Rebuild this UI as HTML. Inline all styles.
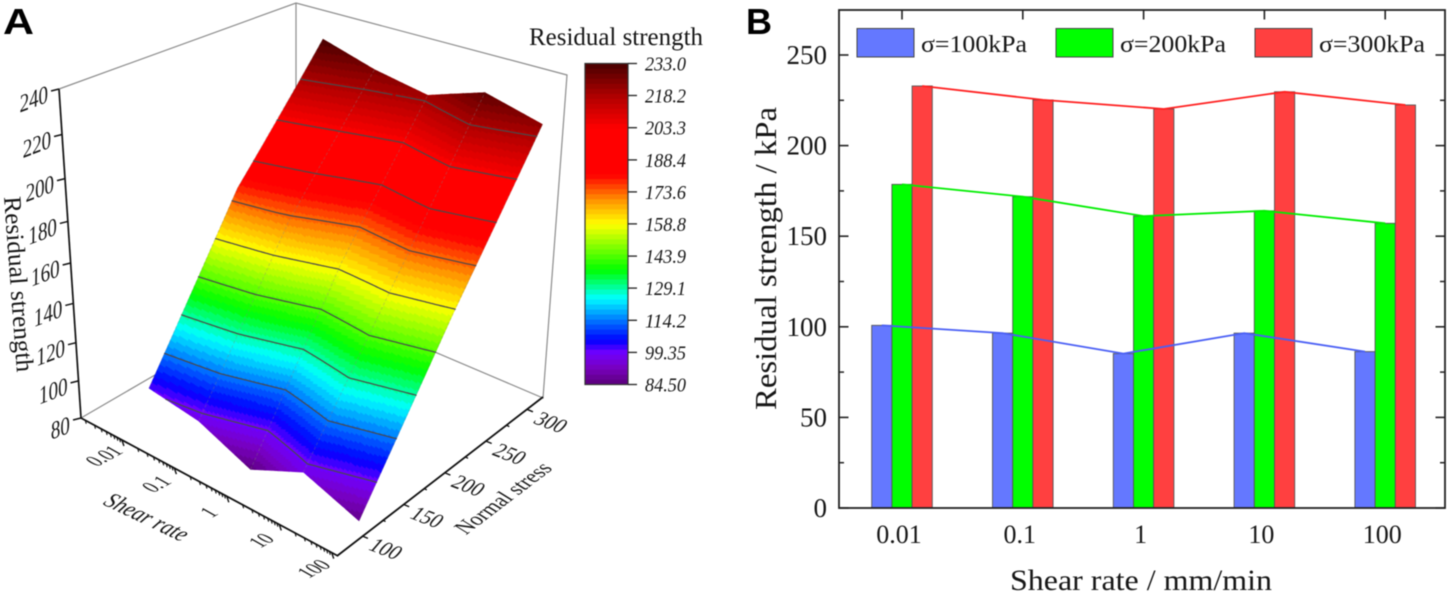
<!DOCTYPE html>
<html>
<head>
<meta charset="utf-8">
<title>Residual strength charts</title>
<style>
html,body{margin:0;padding:0;background:#fff;width:1450px;height:594px;overflow:hidden}
svg{display:block;filter:blur(.4px)}
text{font-family:"Liberation Serif",serif;fill:#161616}
.sans{font-family:"Liberation Sans",sans-serif;font-weight:bold;fill:#000}
</style>
</head>
<body>
<svg id="fig" xmlns="http://www.w3.org/2000/svg" width="1450" height="594" viewBox="0 0 1450 594">
<rect width="1450" height="594" fill="#fff"/>
<text class="sans" x="3" y="34" font-size="36" textLength="31" lengthAdjust="spacingAndGlyphs">A</text>
<text class="sans" x="746" y="34" font-size="36">B</text>
<g id="a"></g>
<g id="b"></g>
</svg>
<script>
// ---- data ----
const shearLabels = ['0.01', '0.1', '1', '10', '100'];
const stress100 = [100.8, 96.5, 85.2, 96.5, 86.3];
const stress200 = [178.6, 171.8, 161.1, 164.0, 157.1];
const stress300 = [232.9, 225.2, 220.2, 229.7, 222.4];
const seriesNames = ['σ=100kPa', 'σ=200kPa', 'σ=300kPa'];
const barTicks = [0, 50, 100, 150, 200, 250];
const barMinorTicks = [25, 75, 125, 175, 225];
const zTicks = [80, 100, 120, 140, 160, 180, 200, 220, 240];
const stressTicks = [100, 150, 200, 250, 300];
const stressMinorTicks = [125, 175, 225, 275];
const colorbarLabels = ['233.0', '218.2', '203.3', '188.4', '173.6', '158.8', '143.9', '129.1', '114.2', '99.35', '84.50'];
const colorbarValues = [233.0, 218.2, 203.3, 188.4, 173.6, 158.8, 143.9, 129.1, 114.2, 99.35, 84.50];

const NS = 'http://www.w3.org/2000/svg';
function mk(tag, parent, attrs) {
  const el = document.createElementNS(NS, tag);
  for (const k in attrs) el.setAttribute(k, attrs[k]);
  parent.appendChild(el);
  return el;
}
const A = document.getElementById('a');
const B = document.getElementById('b');

// ---- colour scale ----
const colorStops = [
  [84.5, 90, 0, 120], [92, 120, 0, 190], [99.35, 112, 0, 255], [105, 0, 0, 255],
  [115, 0, 128, 255], [124.5, 0, 255, 255], [137.5, 0, 255, 0], [158.8, 255, 255, 0],
  [170, 255, 145, 0], [180, 255, 20, 0], [181.5, 255, 0, 0], [203, 255, 0, 0],
  [218, 175, 0, 0], [233, 72, 0, 0]
];
function colorOf(v) {
  if (v <= colorStops[0][0]) v = colorStops[0][0];
  for (let i = 1; i < colorStops.length; i++) {
    const p = colorStops[i - 1], q = colorStops[i];
    if (v <= q[0]) {
      const t = (v - p[0]) / (q[0] - p[0]);
      return 'rgb(' + [1, 2, 3].map(c => Math.round(p[c] + (q[c] - p[c]) * t)).join(',') + ')';
    }
  }
  const l = colorStops[colorStops.length - 1];
  return 'rgb(' + l[1] + ',' + l[2] + ',' + l[3] + ')';
}
const BAND = 148.5 / 64;
function bandOf(v) { return Math.floor((v - 84.5) / BAND); }
function bandColor(b) { return colorOf(84.5 + (b + 0.5) * BAND); }

// ---- panel A: projection ----
// u: 0..1 across shear categories, v: 0..1 across normal stress 100..300
function bilin(a, b, c, d, u, v) { return (a * (1 - u) + b * u) * (1 - v) + (c * (1 - u) + d * u) * v; }
function project(u0, v, z) {
  const u = u0 - 0.022 * Math.sin(Math.PI * u0);
  const bx = bilin(152, 359, 323, 521, u, v) + 7 * 4 * v * (1 - v);
  const by = bilin(431, 534, 345, 412, u, v);
  const lean = bilin(-0.1375, 0, 0, 0.15, u, v);
  const sc = bilin(2.056, 2.1, 2.0, 2.02, u, v);
  return [bx + lean * (z - 80), by - sc * (z - 80)];
}
const rows = [stress100, stress200, stress300];
function zAt(ci, fu, rj, fv) {
  const a = rows[rj][ci], b = rows[rj][ci + 1], c = rows[rj + 1][ci], d = rows[rj + 1][ci + 1];
  return bilin(a, b, c, d, fu, fv);
}
function surf(ci, fu, rj, fv) {
  return project((ci + fu) / (shearLabels.length - 1), (rj + fv) / (rows.length - 1), zAt(ci, fu, rj, fv));
}

// back frame
const frame = mk('path', A, {
  d: 'M59 89L296 3L567 75L543 398L296 293L81 418M296 3L296 293',
  fill: 'none', stroke: '#8c8c8c', 'stroke-width': 1.2
});



// surface bands and contours
const NU = 30, NV = 100;
const bandPaths = {};
const contourPaths = {};
colorbarValues.slice(1, -1).forEach(l => { contourPaths[l] = ''; });
function crossing(p, q, zp, zq, l) {
  const t = (l - zp) / (zq - zp);
  return [p[0] + (q[0] - p[0]) * t, p[1] + (q[1] - p[1]) * t];
}
for (let ci = 0; ci < shearLabels.length - 1; ci++) {
  for (let rj = 0; rj < rows.length - 1; rj++) {
    for (let a = 0; a < NU; a++) {
      for (let b = 0; b < NV; b++) {
        const u0 = a / NU, u1 = (a + 1) / NU, v0 = b / NV, v1 = (b + 1) / NV;
        const pts = [surf(ci, u0, rj, v0), surf(ci, u1, rj, v0), surf(ci, u1, rj, v1), surf(ci, u0, rj, v1)];
        const zs = [zAt(ci, u0, rj, v0), zAt(ci, u1, rj, v0), zAt(ci, u1, rj, v1), zAt(ci, u0, rj, v1)];
        const band = bandOf((zs[0] + zs[1] + zs[2] + zs[3]) / 4);
        bandPaths[band] = (bandPaths[band] || '') + 'M' + pts.map(p => p[0].toFixed(1) + ' ' + p[1].toFixed(1)).join('L') + 'Z';
        for (const l in contourPaths) {
          const cr = [];
          for (let e = 0; e < 4; e++) {
            const f = (e + 1) % 4;
            if ((zs[e] - l) * (zs[f] - l) < 0) cr.push(crossing(pts[e], pts[f], zs[e], zs[f], +l));
          }
          if (cr.length >= 2) contourPaths[l] += 'M' + cr[0][0].toFixed(1) + ' ' + cr[0][1].toFixed(1) + 'L' + cr[1][0].toFixed(1) + ' ' + cr[1][1].toFixed(1);
        }
      }
    }
  }
}
Object.keys(bandPaths).map(Number).sort((x, y) => x - y).forEach(b => {
  const c = bandColor(b);
  const el = mk('path', A, { d: bandPaths[b], fill: c, stroke: c, 'stroke-width': 0.6 });
  
  
});
// mesh lines
for (let ci = 0; ci < shearLabels.length; ci++) {
  let d = '';
  for (let rj = 0; rj < rows.length; rj++) {
    const p = project(ci / (shearLabels.length - 1), rj / (rows.length - 1), rows[rj][ci]);
    d += (rj ? 'L' : 'M') + p[0].toFixed(1) + ' ' + p[1].toFixed(1);
  }
  const el = mk('path', A, { d: d, fill: 'none', stroke: 'rgba(130,130,130,.32)', 'stroke-width': 1, 'stroke-dasharray': '3 2' });
  
  
}
for (const l in contourPaths) {
  const el = mk('path', A, { d: contourPaths[l], fill: 'none', stroke: '#4a4a4a', 'stroke-width': 1.2, 'stroke-linecap': 'round' });
  
  
}

// z axis
function zAxisT(z) { const t = (z - 80) / 160; return t / (1 + 0.123 * (1 - t)); }
function zAxisPt(z) { const t = zAxisT(z); return [81 - 22 * t, 418 - 329 * t]; }
const zAxis = mk('line', A, { x1: 81, y1: 418, x2: 59, y2: 89, stroke: '#111', 'stroke-width': 1.7 });


function skewLabel(parent, str, x, y, m, size, italic) {
  const t = mk('text', parent, {
    transform: 'matrix(' + m.join(' ') + ' ' + x + ' ' + y + ')',
    'text-anchor': 'middle', dy: '.33em', 'font-size': size
  });
  if (italic) t.setAttribute('font-style', 'italic');
  t.textContent = str;
  return t;
}
zTicks.forEach(z => {
  const p = zAxisPt(z);
  const tk = mk('line', A, { x1: p[0], y1: p[1], x2: p[0] - 8, y2: p[1] + 2, stroke: '#111', 'stroke-width': 1.5 });
  
  
  const half = z < 100 ? 11 : 16;
  const t = skewLabel(A, String(z), p[0] - 11 - half * 0.9, p[1] + 10, [0.9, -0.34, 0.14, 1.15], 21, true);
  
  
});
const zTitle = mk('text', A, { transform: 'translate(4 197) rotate(85.8)', 'font-size': 25, textLength: 176, lengthAdjust: 'spacingAndGlyphs' });
zTitle.textContent = 'Residual strength';



// shear axis (log)
function shearT(lg) { return (lg + 2.78) / 4.9; }
function shearPt(lg) { const t = shearT(lg); return [81 + 257 * t, 418 + 138 * t]; }
const shearAxis = mk('line', A, { x1: 81, y1: 418, x2: 338, y2: 556, stroke: '#111', 'stroke-width': 1.8 });


for (let dec = -3; dec < 2; dec++) {
  for (let m = 2; m <= 9; m++) {
    const lg = dec + Math.log10(m);
    if (lg < -2.75) continue;
    const p = shearPt(lg);
    const tk = mk('line', A, { x1: p[0], y1: p[1], x2: p[0] + 1, y2: p[1] + 3.5, stroke: '#111', 'stroke-width': 1.1 });
    
    
  }
}
shearLabels.forEach((s, i) => {
  const p = shearPt(i - 2);
  const tk = mk('line', A, { x1: p[0], y1: p[1], x2: p[0] + 2, y2: p[1] + 6, stroke: '#111', 'stroke-width': 1.4 });
  
  
  const t = skewLabel(A, s, p[0] - 18, p[1] + 16, [0.78, -0.42, 1.0, 0.56], 20, false);
  
  
});
const shearTitle = skewLabel(A, 'Shear rate', 147, 517, [0.9, 0.43, -0.75, 0.87], 21, true);



// normal stress axis
function stressPt(n) { const t = 0.121 + (n - 100) / 200 * 0.801; return [337 + 206 * t, 555 - 158 * t]; }
const stressAxis = mk('line', A, { x1: 337, y1: 556, x2: 543, y2: 397, stroke: '#111', 'stroke-width': 1.8 });


stressMinorTicks.forEach(n => {
  const p = stressPt(n);
  const tk = mk('line', A, { x1: p[0], y1: p[1], x2: p[0] + 3, y2: p[1] + 1.5, stroke: '#111', 'stroke-width': 1.3 });
  
  
});
stressTicks.forEach(n => {
  const p = stressPt(n);
  const tk = mk('line', A, { x1: p[0], y1: p[1], x2: p[0] + 6, y2: p[1] + 2.5, stroke: '#111', 'stroke-width': 1.4 });
  
  
  const t = skewLabel(A, String(n), p[0] + 24, p[1] + 13, [0.94, 0.36, -0.74, 0.86], 20, false);
  
  
});
const stressTitle = skewLabel(A, 'Normal stress', 503, 498, [0.79, -0.6, 1.0, 0.62], 20, false);



// colour bar
const cbTop = 63.5, cbBottom = 384.5, cbLeft = 585, cbRight = 628;
function cbY(v) { return cbBottom - (v - 84.5) / 148.5 * (cbBottom - cbTop); }
for (let b = 0; b < 64; b++) {
  const v0 = 84.5 + b * BAND, v1 = v0 + BAND;
  const el = mk('rect', A, { x: cbLeft, y: cbY(v1) - 0.3, width: cbRight - cbLeft, height: cbY(v0) - cbY(v1) + 0.6, fill: bandColor(b) });
  
  
}
const cbBox = mk('rect', A, { x: cbLeft, y: cbTop, width: cbRight - cbLeft, height: cbBottom - cbTop, fill: 'none', stroke: '#333', 'stroke-width': 1.2 });


colorbarValues.forEach((v, i) => {
  const y = cbY(v);
  const tk = mk('line', A, { x1: cbRight, y1: y, x2: cbRight + 9, y2: y, stroke: '#222', 'stroke-width': 1.3 });
  
  
  const t = mk('text', A, { x: 645, y: y + 7, 'font-size': 20, 'font-style': 'italic', textLength: 41, lengthAdjust: 'spacingAndGlyphs' });
  t.textContent = colorbarLabels[i];
  
  
});
const cbTitle = mk('text', A, { x: 529, y: 45, 'font-size': 25, textLength: 174, lengthAdjust: 'spacingAndGlyphs' });
cbTitle.textContent = 'Residual strength';



// ---- panel B ----
const plotL = 839, plotR = 1445, plotT = 10, plotB = 508;
function yScale(v) { return plotB - v * 1.812; }
function xScale(i) { return 902 + 120.8 * i; }
const barW = 20.2;
const barFills = ['#6478ff', '#00ff00', '#ff4040'];
const lineColors = ['#4a5ff5', '#00ee00', '#ff2020'];
rows.forEach((series, s) => {
  series.forEach((v, i) => {
    const x = xScale(i) + (s - 1) * barW - barW / 2;
    const el = mk('rect', B, { x: x, y: yScale(v), width: barW, height: plotB - yScale(v), fill: barFills[s], stroke: '#555', 'stroke-width': 0.9 });
    
    
  });
});
rows.forEach((series, s) => {
  const pts = series.map((v, i) => (xScale(i) + (s - 1) * barW).toFixed(1) + ',' + yScale(v).toFixed(1)).join(' ');
  const el = mk('polyline', B, { points: pts, fill: 'none', stroke: lineColors[s], 'stroke-width': 1.8 });
  
  
});
const box = mk('rect', B, { x: plotL, y: plotT, width: plotR - plotL, height: plotB - plotT, fill: 'none', stroke: '#222', 'stroke-width': 1.8 });


barTicks.forEach(v => {
  const y = yScale(v);
  const l = mk('line', B, { x1: plotL, y1: y, x2: plotL + 9.5, y2: y, stroke: '#222', 'stroke-width': 1.6 });
  
  
  const r = mk('line', B, { x1: plotR, y1: y, x2: plotR - 9.5, y2: y, stroke: '#222', 'stroke-width': 1.6 });
  
  
  const t = mk('text', B, { x: 827, y: y + 9, 'font-size': 27, 'text-anchor': 'end' });
  t.textContent = String(v);
  
  
});
barMinorTicks.forEach(v => {
  const y = yScale(v);
  const l = mk('line', B, { x1: plotL, y1: y, x2: plotL + 5, y2: y, stroke: '#222', 'stroke-width': 1.5 });
  
  
  const r = mk('line', B, { x1: plotR, y1: y, x2: plotR - 5, y2: y, stroke: '#222', 'stroke-width': 1.5 });
  
  
});
shearLabels.forEach((s, i) => {
  const x = xScale(i);
  const tk = mk('line', B, { x1: x, y1: plotT, x2: x, y2: plotT + 9.5, stroke: '#222', 'stroke-width': 1.6 });
  
  
  const t = mk('text', B, { x: x - 3, y: 543, 'font-size': 26, 'text-anchor': 'middle' });
  t.textContent = s;
  
  
});
const xTitle = mk('text', B, { x: 1010, y: 590, 'font-size': 30, textLength: 262, lengthAdjust: 'spacingAndGlyphs' });
xTitle.textContent = 'Shear rate / mm/min';


const yTitle = mk('text', B, { transform: 'translate(776 410) rotate(-90)', 'font-size': 31, textLength: 303, lengthAdjust: 'spacingAndGlyphs' });
yTitle.textContent = 'Residual strength / kPa';


const legendX = [857, 1056, 1255];
seriesNames.forEach((name, s) => {
  const sw = mk('rect', B, { x: legendX[s], y: 28.5, width: 57, height: 28.5, fill: barFills[s], stroke: '#444', 'stroke-width': 1 });
  
  
  const t = mk('text', B, { x: legendX[s] + 64, y: 52, 'font-size': 24.5, textLength: 106, lengthAdjust: 'spacingAndGlyphs' });
  t.textContent = name;
  
  
});
</script>
</body>
</html>
